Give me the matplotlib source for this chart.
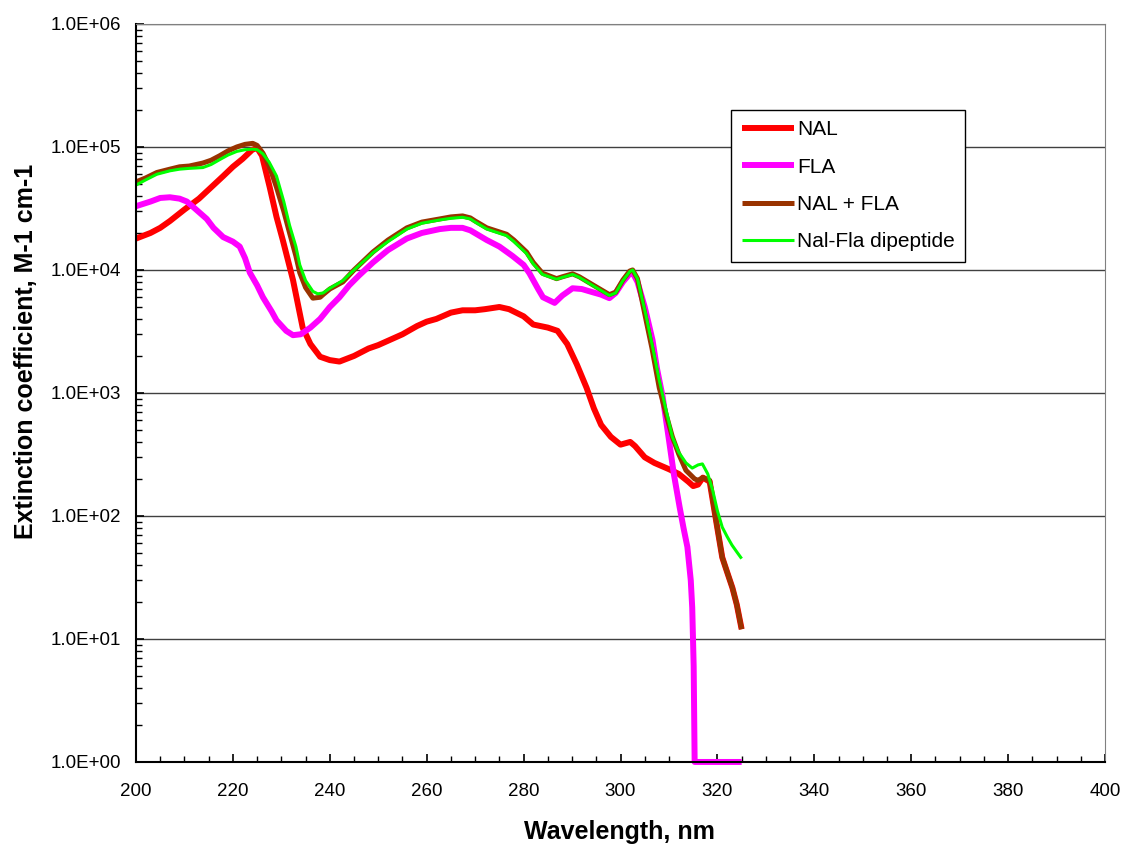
import matplotlib
matplotlib.use("Agg")
import matplotlib.pyplot as plt
from matplotlib.ticker import FixedLocator, MultipleLocator, LogLocator, NullFormatter

plt.rcParams['font.family'] = ['Liberation Sans', 'DejaVu Sans']

# NAL
nal_wl = [200, 203, 205, 207, 210, 213, 215, 218, 220, 222, 224, 225, 226, 227.6, 229, 230.3,
          232.4, 234.4, 236, 238, 240, 242, 245, 248, 250, 255, 258, 260, 262, 265, 267.4,
          270, 272, 275, 277, 280, 282, 285, 287, 289, 291, 293, 294.5, 296, 298, 300, 302,
          303, 305, 307, 310, 312, 314, 315, 316, 317, 318.4, 319.8, 321, 322, 323.1, 324, 325]
nal_val = [18000, 20000, 22000, 25000, 31000, 38000, 45000, 58000, 69000, 80000, 95000, 98000,
           85000, 47000, 27000, 17500, 8300, 3400, 2500, 1970, 1850, 1800, 2000, 2300, 2450,
           3000, 3500, 3800, 4000, 4500, 4700, 4700, 4800, 5000, 4800, 4200, 3600, 3400, 3200,
           2500, 1700, 1100, 750, 550, 440, 380, 400, 370, 300, 270, 240, 220, 190, 175, 180,
           205, 190, 88, 46, 35, 26, 19, 12]

# FLA
fla_wl = [200, 203, 205, 207, 209, 210.5, 212, 214.6, 216, 218, 220, 221.4, 222.5, 223.5, 225,
          226.2, 228, 229, 231, 232.4, 234, 236, 238, 240, 242, 244, 246, 248.9, 252, 255.9,
          259, 262.7, 265, 267.4, 269, 272.4, 275, 277.7, 280, 281.2, 283, 284, 286.4, 288,
          290.1, 292, 294.2, 296, 297.7, 299, 300.5, 301.9, 302.5, 303.5, 305, 306.6, 307.5,
          308.7, 310, 311, 312.2, 313, 313.8, 314.5, 314.8, 315.1, 315.3, 325]
fla_val = [33000, 36000, 38500, 39000, 38000, 36000, 32000, 26000, 22000, 18500, 17000, 15500,
           12500, 9500, 7500, 6000, 4600, 3900, 3200, 2950, 3000, 3400, 4000, 5000, 6000, 7500,
           9000, 11500, 14500, 18000, 20000, 21500, 22000, 22000, 21000, 17500, 15500, 13000,
           11000, 9400, 7000, 6000, 5400, 6200, 7100, 7000, 6600, 6300, 5900, 6500, 8000, 9300,
           9500, 8000, 5000, 2700, 1600, 930, 415, 220, 118, 80, 56, 30, 18, 6, 1, 1]

# NAL + FLA
sum_wl = [200, 202, 204.3, 207, 209, 211, 213.8, 215.5, 217.3, 219, 220.8, 222.5, 224.1, 225,
          226.2, 227.5, 229, 230.5, 231.7, 233, 233.8, 235, 236.5, 238, 238.6, 240, 242.7, 245,
          248.9, 252, 255.9, 259, 262.7, 265, 267.4, 269, 270, 272.4, 276.5, 278, 280.6, 282,
          283.9, 286.8, 288, 290.1, 291.5, 294.2, 297.7, 299, 300.5, 301.9, 302.5, 303.5, 304.5,
          305.4, 306.5, 308, 309.5, 310.7, 312, 313.5, 315.3, 316, 317, 318.4, 319.8, 321, 322,
          323.1, 324, 325]
sum_val = [52000, 56000, 62000, 66000, 69000, 70000, 74000, 78000, 85000, 93000, 100000, 105000,
           107000, 103000, 89000, 70000, 47000, 30000, 20000, 13000, 9500, 7200, 5900, 6000, 6300,
           7000, 8000, 10000, 14000, 17500, 22000, 24500, 26000, 27000, 27500, 26500, 25000,
           22000, 19500, 17500, 14000, 11500, 9400, 8500, 8800, 9300, 8800, 7600, 6300, 6600,
           8300, 9800, 10000, 8500, 5500, 3700, 2300, 1100, 650, 440, 320, 235, 200, 195, 205,
           195, 88, 46, 35, 26, 19, 12]

# Nal-Fla dipeptide
dip_wl = [200, 202, 204.3, 207, 209, 211, 213.8, 215.5, 217.3, 219, 220.8, 222.5, 224.1, 225,
          226.2, 227.5, 229, 230.5, 231.7, 233, 233.8, 235, 236.5, 237.5, 238.6, 240, 242.7, 245,
          248.9, 252, 255.9, 259, 262.7, 265, 267.4, 269, 270, 272.4, 276.5, 278, 280.6, 282,
          283.9, 286.8, 288, 290.1, 291.5, 294.2, 297.7, 299, 300.5, 301.9, 302.5, 303.5, 305.3,
          306.5, 308, 309.5, 310.7, 312, 313.5, 314.8, 316, 316.9, 318, 319, 320, 321, 322, 323,
          324, 325]
dip_val = [49000, 54000, 60000, 64000, 66000, 67000, 68000, 72000, 79000, 86000, 92000, 95000,
           96000, 95000, 88000, 75000, 58000, 36000, 23000, 15500, 11000, 8200, 6700, 6400, 6500,
           7100, 8200, 10000, 13800, 17000, 21500, 24000, 25500, 26300, 26800, 26000, 24500,
           21500, 19000, 17000, 13600, 11200, 9200, 8400, 8700, 9200, 8700, 7500, 6200, 6500,
           8200, 9700, 10000, 8500, 4200, 2500, 1270, 700, 440, 330, 270, 245, 260, 265, 220,
           163, 110, 81, 68, 58, 51, 45]

y_ticks = [1, 10, 100, 1000, 10000, 100000, 1000000]
y_labels = ["1.0E+00", "1.0E+01", "1.0E+02", "1.0E+03", "1.0E+04", "1.0E+05", "1.0E+06"]

fig = plt.figure(figsize=(11.23, 8.44), dpi=100)
ax = fig.add_axes([0.1211, 0.0972, 0.8629, 0.8744])

ax.plot(nal_wl, nal_val, color='#FF0000', lw=4.3, label='NAL', solid_capstyle='butt')
ax.plot(fla_wl, fla_val, color='#FF00FF', lw=4.3, label='FLA', clip_on=False, solid_capstyle='butt')
ax.plot(sum_wl, sum_val, color='#993300', lw=3.6, label='NAL + FLA', solid_capstyle='butt')
ax.plot(dip_wl, dip_val, color='#00FF00', lw=2.2, label='Nal-Fla dipeptide', solid_capstyle='butt')

ax.set_yscale('log')
ax.set_xlim(200, 400)
ax.set_ylim(1, 1e6)
ax.xaxis.set_major_locator(MultipleLocator(20))
ax.xaxis.set_minor_locator(MultipleLocator(5))
ax.yaxis.set_major_locator(FixedLocator(y_ticks))
ax.set_yticklabels(y_labels)
ax.yaxis.set_minor_locator(LogLocator(base=10, subs=range(2, 10), numticks=20))
ax.yaxis.set_minor_formatter(NullFormatter())

ax.tick_params(axis='both', which='major', direction='in', length=6, width=1.2,
               labelsize=13.5, colors='black')
ax.tick_params(axis='both', which='minor', direction='in', length=4, width=1)
ax.tick_params(axis='y', which='both', right=False, pad=10.5)
ax.tick_params(axis='x', which='both', top=False, pad=15)

ax.grid(True, which='major', axis='y', color='#404040', lw=1)
ax.set_axisbelow(True)

ax.spines['left'].set_linewidth(1.5)
ax.spines['bottom'].set_linewidth(1.5)
ax.spines['top'].set_color('#808080')
ax.spines['right'].set_color('#808080')

ax.set_xlabel('Wavelength, nm', fontsize=18, fontweight='bold')
ax.set_ylabel('Extinction coefficient, M-1 cm-1', fontsize=18, fontweight='bold')
ax.xaxis.label.set_verticalalignment('center')
ax.yaxis.label.set_verticalalignment('center')
ax.xaxis.set_label_coords(0.499, -0.0949)
ax.yaxis.set_label_coords(-0.1135, 0.557)

leg = ax.legend(loc='upper left', bbox_to_anchor=(0.6144, 0.8835), fontsize=15, frameon=True,
                fancybox=False, edgecolor='black', framealpha=1, handlelength=2.5,
                labelspacing=0.88, borderpad=0.5, handletextpad=0.15, borderaxespad=0)
leg.get_frame().set_linewidth(1)

fig.savefig('out.png', dpi=100)
